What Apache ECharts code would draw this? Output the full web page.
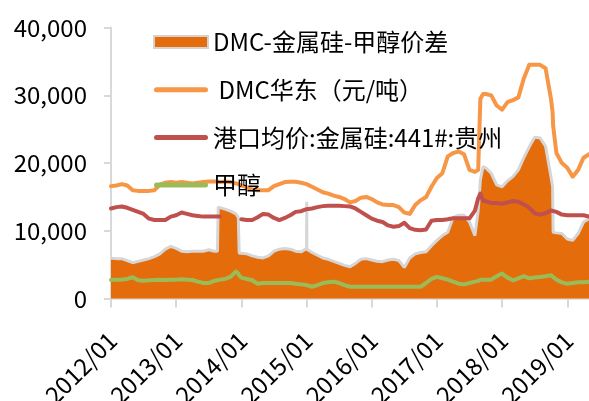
<!DOCTYPE html>
<html>
<head>
<meta charset="utf-8">
<script src="https://cdn.jsdelivr.net/npm/echarts@6/dist/echarts.min.js"></script>
<style>
  html, body { margin: 0; padding: 0; background: #fff; }
  #chart { width: 589px; height: 401px; }
</style>
</head>
<body>
<div id="chart"></div>
<script>
// Observation dates (monthly, with a few extra dates around sharp moves)
const dates = [
  '2012/01','2012/02','2012/03','2012/04','2012/05','2012/06','2012/07','2012/08','2012/09','2012/10','2012/11','2012/12',
  '2013/01','2013/02','2013/03','2013/04','2013/05','2013/06','2013/07','2013/08','2013/08/19','2013/08/23','2013/09','2013/10','2013/11','2013/12','2013/12/14','2013/12/19',
  '2014/01','2014/02','2014/03','2014/04','2014/05','2014/06','2014/07','2014/08','2014/09','2014/10','2014/11','2014/12',
  '2015/01','2015/01/02','2015/01/03','2015/02','2015/03','2015/04','2015/05','2015/06','2015/07','2015/08','2015/09','2015/10','2015/11','2015/12',
  '2016/01','2016/02','2016/03','2016/04','2016/05','2016/06','2016/07','2016/08','2016/09','2016/10','2016/11','2016/12',
  '2017/01','2017/02','2017/03','2017/04','2017/05','2017/06','2017/07','2017/08','2017/08/19','2017/09','2017/09/16','2017/10','2017/11','2017/12',
  '2018/01','2018/02','2018/03','2018/04','2018/05','2018/06','2018/07','2018/08','2018/09','2018/10','2018/10/10','2018/10/13','2018/11','2018/12',
  '2019/01','2019/02','2019/03','2019/04','2019/05'
];

// DMC - silicon metal - methanol spread (yuan/t)
const spread = [
  5950,5900,5900,5600,5300,5500,5700,5900,6200,6600,7300,7700,
  7400,7000,6900,7000,7000,7000,7200,7000,7000,13500,13500,13200,12900,12500,12000,6700,
  6700,6600,6300,6100,6000,6300,7000,7300,7400,7300,7000,6900,
  7400,14300,7300,6800,6400,6000,5800,5500,5200,4900,4700,5200,5800,5900,
  5700,5500,5450,5700,5800,5600,4600,6000,6600,6800,6900,7800,
  8600,9300,9800,12000,12300,12300,11300,9300,13000,17500,19500,19300,18500,16800,
  16500,17400,18000,19000,20800,22400,23800,23700,22500,18000,16500,9800,9700,9600,
  8800,8600,9600,11300,11800
];

// DMC, East China (yuan/t)
const dmcEast = [
  16600,16700,16900,16700,16000,15900,15900,15900,16000,16800,17100,17200,
  17100,17200,17100,17000,17100,17200,17300,17300,17300,17250,17200,17300,17200,17000,16900,16800,
  16700,16400,16100,16000,16000,16000,16600,16900,17200,17250,17250,17100,
  16900,16900,16900,16500,16100,15700,15500,15200,15000,14700,14200,14400,14900,15000,
  14700,14200,13900,13800,13800,13500,12700,12500,13800,14500,15000,16500,
  17800,18500,21000,21500,21700,21300,19000,18700,19000,29500,30200,30200,30000,28500,
  27900,29000,29300,29700,32500,34500,34500,34500,34000,29500,27500,25500,21500,20000,
  19300,18000,19000,20800,21300
];

// Port average price: silicon metal 441#, Guizhou (yuan/t)
const silicon = [
  13300,13500,13600,13400,13100,12800,12500,11800,11600,11600,11600,12100,
  12300,12700,12500,12300,12200,12100,12100,12100,12100,12100,12100,null,null,null,null,null,
  11700,11600,11600,12000,12500,12400,11900,11600,11900,12300,12800,12900,
  13200,13200,13200,13300,13500,13650,13700,13700,13700,13650,13600,13300,12800,12300,
  11800,11500,11300,10800,10600,10700,11200,10400,10150,10100,10200,11500,
  11600,11600,11700,11850,11850,11850,11850,13000,14800,15500,14400,14400,14100,14100,
  14000,14200,14400,14300,13900,13400,12600,12400,12600,13000,13000,13000,12800,12400,
  12300,12300,12300,12300,12100
];

// Methanol (yuan/t)
const methanol = [
  2750,2800,2800,2900,3150,2700,2650,2700,2750,2800,2750,2800,
  2800,2850,2800,2750,2500,2300,2300,2600,2700,2750,2800,2900,3200,4000,3700,3400,
  3100,2900,2700,2200,2300,2300,2300,2300,2300,2300,2200,2100,
  2000,2000,2000,1750,2000,2300,2400,2500,2300,2000,1750,1750,1750,1750,
  1750,1750,1750,1750,1750,1750,1750,1750,1750,1750,2300,2900,
  3200,3000,2800,2500,2200,2100,2300,2500,2600,2800,2800,2800,2800,3300,
  3700,3100,2700,3000,3300,3000,3100,3200,3300,3450,3450,3400,2800,2400,
  2200,2300,2400,2400,2500
];

const seriesNames = ['DMC-金属硅-甲醇价差', ' DMC华东（元/吨）', '港口均价:金属硅:441#:贵州', '甲醇'];
const FONT = '"Noto Sans CJK SC", "Noto Sans", sans-serif';
// rounded bar used as the legend mark of the line series
const LINE_ICON = 'path://M2.5,0H51.5A2.5,2.5,0,0,1,51.5,5H2.5A2.5,2.5,0,0,1,2.5,0Z';

// months elapsed since 2012/01 (fractional within a month)
function monthIndex(s) {
  const p = s.split('/').map(Number);
  return (p[0] - 2012) * 12 + (p[1] - 1) + ((p[2] || 1) - 1) / 30;
}
const xs = dates.map(monthIndex);
const pairs = arr => arr.map((v, i) => [xs[i], v == null ? '-' : v]);

const chart = echarts.init(document.getElementById('chart'), null, { renderer: 'canvas' });

chart.setOption({
  animation: false,
  backgroundColor: '#fff',
  grid: { left: 111, right: 0, top: 27.6, bottom: 102.4, containLabel: false, outerBoundsMode: 'none' },
  legend: {
    orient: 'vertical',
    left: 148,
    top: 25,
    itemWidth: 54,
    itemHeight: 12,
    itemGap: 23.7,
    textStyle: { fontSize: 24, fontFamily: FONT, color: '#000', lineHeight: 24 },
    data: [
      { name: seriesNames[0], icon: 'rect', itemStyle: { color: '#E46C0A', borderColor: '#d3d3d3', borderWidth: 2 } },
      { name: seriesNames[1], icon: LINE_ICON },
      { name: seriesNames[2], icon: LINE_ICON },
      { name: seriesNames[3], icon: LINE_ICON }
    ]
  },
  xAxis: {
    type: 'value',
    min: 0,
    max: 88,
    interval: 12,
    splitLine: { show: false },
    axisLine: { show: true, lineStyle: { color: '#d9d9d9', width: 2.5 } },
    axisTick: { show: true, length: 9, lineStyle: { color: '#d9d9d9', width: 2 } },
    axisLabel: {
      rotate: 45,
      margin: 12,
      align: 'right',
      verticalAlign: 'top',
      lineHeight: 38,
      padding: [0, 17, 0, 0],
      fontSize: 24,
      fontFamily: FONT,
      color: '#000',
      showMaxLabel: false,
      formatter: v => (v % 12 === 0 ? (2012 + v / 12) + '/01' : '')
    }
  },
  yAxis: {
    type: 'value',
    min: 0,
    max: 40000,
    interval: 10000,
    splitLine: { show: false },
    axisLine: { show: true, lineStyle: { color: '#d9d9d9', width: 2 } },
    axisTick: { show: true, length: 7, lineStyle: { color: '#d9d9d9', width: 2 } },
    axisLabel: {
      margin: 24,
      fontSize: 24,
      fontFamily: FONT,
      color: '#000',
      formatter: v => v.toLocaleString('en-US')
    }
  },
  series: [
    {
      name: seriesNames[0],
      type: 'line',
      data: pairs(spread),
      symbol: 'none',
      color: '#E46C0A',
      lineStyle: { color: '#d6d6d6', width: 3 },
      areaStyle: { color: '#E46C0A', opacity: 1 },
      z: 1
    },
    {
      name: seriesNames[1],
      type: 'line',
      data: pairs(dmcEast),
      symbol: 'none',
      color: '#F79646',
      lineStyle: { color: '#F79646', width: 4, cap: 'round', join: 'round' },
      z: 3
    },
    {
      name: seriesNames[2],
      type: 'line',
      data: pairs(silicon),
      symbol: 'none',
      color: '#C0504D',
      lineStyle: { color: '#C0504D', width: 4, cap: 'round', join: 'round' },
      z: 3
    },
    {
      name: seriesNames[3],
      type: 'line',
      data: pairs(methanol),
      symbol: 'none',
      color: '#9BBB59',
      lineStyle: { color: '#9BBB59', width: 4, cap: 'round', join: 'round' },
      z: 3
    }
  ]
});
</script>
</body>
</html>
